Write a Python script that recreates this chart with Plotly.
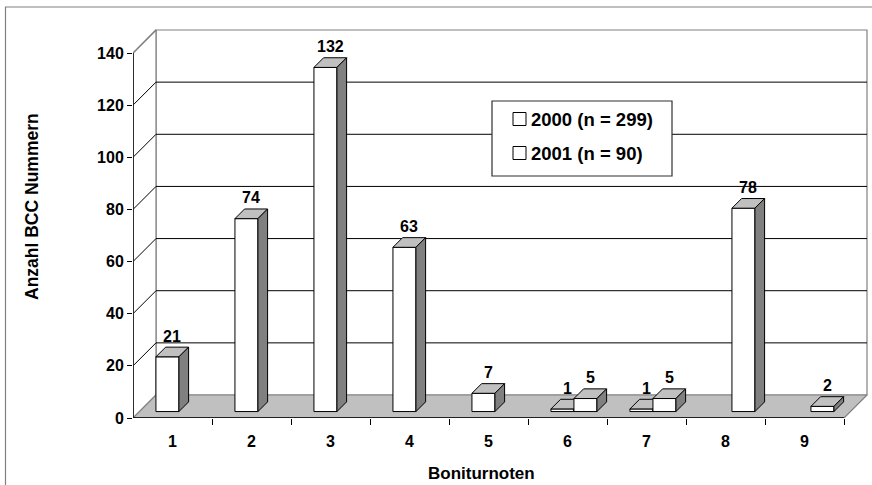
import plotly.graph_objects as go

# ---- data -------------------------------------------------------------
categories = [1, 2, 3, 4, 5, 6, 7, 8, 9]
counts_2000 = [21, 74, 132, 63, 7, 1, 1, None, None]
counts_2001 = [None, None, None, None, None, 5, 5, 78, 2]
series_names = ["2000 (n = 299)", "2001 (n = 90)"]
y_ticks = [0, 20, 40, 60, 80, 100, 120, 140]
y_max = 140

# ---- geometry of the pseudo-3D box ------------------------------------
W, H = 872, 485
X0_PX, X_STEP_PX = 133, 79.0          # left edge of front plane, px per category
Y0_PX, Y_STEP_PX = 418, 365.0 / 140   # baseline of front plane, px per unit
DEPTH_PX = 23                          # full depth of floor / walls
BAR_FRONT, BAR_BACK = 0.28, 0.70       # bar placement inside the depth
BAR_W = 23 / X_STEP_PX                 # bar width in category units

DX = DEPTH_PX / X_STEP_PX
DY = DEPTH_PX / Y_STEP_PX
x_lo, x_hi = 0.5, len(categories) + 0.5

FONT = "Liberation Sans, Arial, sans-serif"
GRAY_LINE = "#808080"

fig = go.Figure()


def poly(points):
    xs, ys = [], []
    for p in points:
        xs += [q[0] for q in p] + [p[0][0], None]
        ys += [q[1] for q in p] + [p[0][1], None]
    return xs, ys


def add_fill(points, fill, line_color, line_width, xa="x", ya="y"):
    xs, ys = poly(points)
    fig.add_trace(go.Scatter(
        x=xs, y=ys, mode="lines", fill="toself", fillcolor=fill,
        line=dict(color=line_color, width=line_width),
        xaxis=xa, yaxis=ya, hoverinfo="skip", showlegend=False))


def add_lines(segments, color, width, xa="x", ya="y"):
    xs, ys = [], []
    for seg in segments:
        xs += [p[0] for p in seg] + [None]
        ys += [p[1] for p in seg] + [None]
    fig.add_trace(go.Scatter(
        x=xs, y=ys, mode="lines", line=dict(color=color, width=width),
        xaxis=xa, yaxis=ya, hoverinfo="skip", showlegend=False))


# ---- walls, floor, gridlines ------------------------------------------
add_fill([[(x_lo + DX, DY), (x_hi + DX, DY), (x_hi + DX, y_max + DY), (x_lo + DX, y_max + DY)]],
         "white", GRAY_LINE, 1.2)
add_fill([[(x_lo, 0), (x_lo + DX, DY), (x_lo + DX, y_max + DY), (x_lo, y_max)]],
         "white", GRAY_LINE, 1.2)
add_fill([[(x_lo, 0), (x_hi, 0), (x_hi + DX, DY), (x_lo + DX, DY)]],
         "#c0c0c0", GRAY_LINE, 1.2)
add_lines([[(x_lo, v), (x_lo + DX, v + DY), (x_hi + DX, v + DY)]
           for v in y_ticks if 0 < v < y_max], "black", 1)
add_lines([[(x_lo, y_max), (x_lo + DX, y_max + DY)]], GRAY_LINE, 1.2)
# front axis lines
add_lines([[(x_lo, 0), (x_lo, y_max)], [(x_lo, 0), (x_hi, 0)]], "#202020", 1.8)

# ---- bars ---------------------------------------------------------------
base = BAR_FRONT * DY
shift_x = BAR_FRONT * DX
bdx = (BAR_BACK - BAR_FRONT) * DX
bdy = (BAR_BACK - BAR_FRONT) * DY

labels = []
for i, (values, offset) in enumerate([(counts_2000, -BAR_W), (counts_2001, 0.0)]):
    xa, ya = f"x{i + 2}", f"y{i + 2}"
    fig.add_trace(go.Bar(
        x=categories, y=values, base=base, width=BAR_W, offset=offset + shift_x,
        marker=dict(color="white", line=dict(color="black", width=1)),
        xaxis=xa, yaxis=ya, showlegend=False, hoverinfo="skip"))
    tops, sides = [], []
    for c, v in zip(categories, values):
        if v is None:
            continue
        x0 = c + offset + shift_x
        x1 = x0 + BAR_W
        top = base + v
        tops.append([(x0, top), (x1, top), (x1 + bdx, top + bdy), (x0 + bdx, top + bdy)])
        sides.append([(x1, base), (x1, top), (x1 + bdx, top + bdy), (x1 + bdx, base + bdy)])
        labels.append(((x0 + x1 + bdx) / 2, top + bdy, v))
    add_fill(tops, "#c0c0c0", "black", 1, xa, ya)
    add_fill(sides, "#808080", "black", 1, xa, ya)

for lx, ly, v in labels:
    fig.add_annotation(x=lx, y=ly, xref="x", yref="y", text=str(v), showarrow=False,
                       yanchor="middle", yshift=11,
                       font=dict(family=FONT, size=16, color="black", weight="bold"))

# ---- legend ---------------------------------------------------------------
def px_x(p):
    return p / W


def px_y(p):
    return 1 - p / H


fig.add_shape(type="rect", xref="paper", yref="paper",
              x0=px_x(492), x1=px_x(672), y0=px_y(176), y1=px_y(101),
              fillcolor="white", line=dict(color="#303030", width=1.2))
for k, (name, cy) in enumerate(zip(series_names, [119, 153])):
    fig.add_shape(type="rect", xref="paper", yref="paper",
                  x0=px_x(513), x1=px_x(526), y0=px_y(cy + 6.5), y1=px_y(cy - 6.5),
                  fillcolor="white", line=dict(color="black", width=1))
    fig.add_annotation(x=px_x(529), y=px_y(cy), xref="paper", yref="paper",
                       text=name, showarrow=False, xanchor="left", yanchor="middle",
                       font=dict(family=FONT, size=18.5, color="black", weight="bold"))

# ---- axis titles and outer frame -----------------------------------------
fig.add_annotation(x=px_x(32), y=px_y(207), xref="paper", yref="paper",
                   text="Anzahl BCC Nummern", textangle=-90, showarrow=False,
                   xanchor="center", yanchor="middle",
                   font=dict(family=FONT, size=17.5, color="black", weight="bold"))
fig.add_annotation(x=px_x(482), y=px_y(473), xref="paper", yref="paper",
                   text="Boniturnoten", showarrow=False,
                   xanchor="center", yanchor="middle",
                   font=dict(family=FONT, size=17, color="black", weight="bold"))
fig.add_shape(type="rect", xref="paper", yref="paper",
              x0=px_x(5.5), x1=px_x(W + 10), y0=px_y(H + 10), y1=px_y(7),
              line=dict(color=GRAY_LINE, width=1.2), layer="below")

# ---- axes -------------------------------------------------------------------
x_range = [x_lo, x_lo + (W - X0_PX) / X_STEP_PX]
y_range = [0, Y0_PX / Y_STEP_PX]
x_domain = [X0_PX / W, 1]
y_domain = [(H - Y0_PX) / H, 1]

fig.update_layout(
    width=W, height=H, margin=dict(l=0, r=0, t=0, b=0, autoexpand=False),
    paper_bgcolor="white", plot_bgcolor="rgba(0,0,0,0)",
    barmode="overlay", showlegend=False,
    xaxis=dict(domain=x_domain, range=x_range, tickmode="array",
               tickvals=categories, ticktext=[str(c) for c in categories],
               ticks="", showgrid=False, zeroline=False, showline=False,
               ticklabelstandoff=12, automargin=False,
               tickfont=dict(family=FONT, size=16, color="black", weight="bold"),
               minor=dict(tickmode="array",
                          tickvals=[c + 0.5 for c in categories],
                          ticks="outside", ticklen=6, tickwidth=1,
                          tickcolor="black", showgrid=False)),
    yaxis=dict(domain=y_domain, range=y_range, tickmode="array", tickvals=y_ticks,
               ticks="outside", ticklen=5, tickwidth=1, tickcolor="black",
               showgrid=False, zeroline=False, showline=False, automargin=False,
               tickfont=dict(family=FONT, size=16, color="black", weight="bold")),
)
for n in (2, 3):
    fig.update_layout(**{
        f"xaxis{n}": dict(overlaying="x", range=x_range, domain=x_domain,
                          visible=False, anchor=f"y{n}"),
        f"yaxis{n}": dict(overlaying="y", range=y_range, domain=y_domain,
                          visible=False, anchor=f"x{n}"),
    })

fig.write_html("out.html")
